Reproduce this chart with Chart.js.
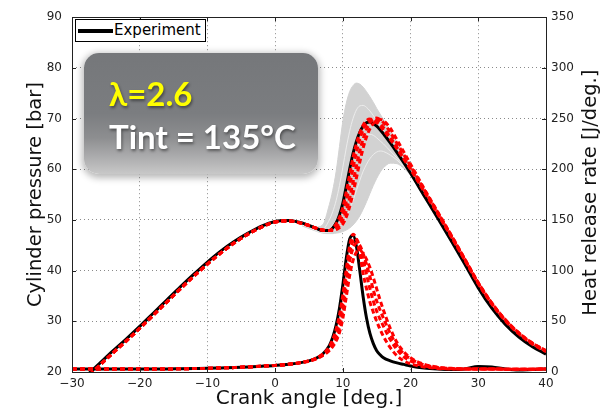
<!DOCTYPE html>
<html>
<head>
<meta charset="utf-8">
<script src="https://cdn.jsdelivr.net/npm/chart.js@4.4.1/dist/chart.umd.min.js"></script>
<style>
  body { margin: 0; background: #fff; }
  #wrap { position: relative; width: 604px; height: 412px; }
  #legendBox {
    position: absolute; left: 75px; top: 19px; width: 129px; height: 21px;
    border: 1px solid #000; background: #fff;
    font-family: "DejaVu Sans", sans-serif; font-size: 15px; line-height: 21px;
  }
  #legendBox .swatch { position: absolute; left: 2px; top: 9px; width: 35px; height: 4px; background: #000; }
  #legendBox .lbl { position: absolute; left: 38px; top: 0; }
  #infoBox {
    position: absolute; left: 84px; top: 53px; width: 234px; height: 121px;
    border-radius: 15px;
    background: linear-gradient(to bottom, #75777a 0%, #7b7d80 50%, #8d8e90 70%, #b4b4b5 90%, #c8c8c8 100%);
    box-shadow: 0 2px 7px 2px rgba(0, 0, 0, 0.28);
    font-family: Lato, "Open Sans", sans-serif; font-weight: bold; font-size: 33px;
  }
  #infoBox div { position: absolute; left: 25px; white-space: nowrap; text-shadow: 1px 2px 3px rgba(0, 0, 0, 0.45); }
  #lam { top: 20px; color: #ffff00; }
  #tint { top: 63px; color: #fff; }
</style>
</head>
<body>
<div id="wrap">
  <canvas id="myChart" width="604" height="412"></canvas>
  <div id="legendBox"><span class="swatch"></span><span class="lbl">Experiment</span></div>
  <div id="infoBox"><div id="lam">λ=2.6</div><div id="tint">Tint = 135°C</div></div>
</div>
<script>
// crank angle grid [deg.]
var crank = [-30, -28, -26, -24, -22, -20, -18, -16, -14, -12, -10, -8, -6, -4, -2, 0, 2, 4,
  5, 6, 7, 8, 8.5, 9, 9.5, 10, 10.5, 11, 11.5, 12, 12.5, 13, 13.5, 14, 14.5, 15, 15.5, 16,
  17, 18, 19, 20, 22, 24, 26, 28, 30, 32, 34, 36, 38, 40];

var xTicks = [-30, -20, -10, 0, 10, 20, 30, 40];
var pTicks = [20, 30, 40, 50, 60, 70, 80, 90];
var hrrTicks = [0, 50, 100, 150, 200, 250, 300, 350];

// experiment, cylinder pressure [bar]
var expPressure = [16.7, 19.1, 21.6, 24.1, 26.5, 29.0, 31.6, 34.2, 36.8, 39.3, 41.7, 43.9, 45.8, 47.4, 48.8, 49.7, 49.9, 49.4,
  48.9, 48.4, 47.9, 47.9, 48.4, 49.4, 51.0, 53.3, 56.6, 60.0, 63.1, 65.5, 67.3, 68.5, 69.2, 69.3, 69.0, 68.5, 67.8, 67.0,
  65.2, 63.3, 61.3, 59.2, 54.8, 50.4, 45.9, 41.3, 36.6, 32.6, 29.4, 26.9, 25.0, 23.5];

// experiment, heat release rate [J/deg.]
var expHrr = [3, 3, 3, 3, 3, 3, 3, 3, 3.2, 3.4, 3.6, 4, 4.4, 5, 5.7, 6.5, 7.6, 9.5,
  11, 13.5, 17.5, 26, 34, 46, 63, 86, 112, 131, 135, 124, 100, 74, 53, 38, 28, 21, 17, 14,
  11, 9, 7.5, 6, 4, 3, 2.5, 3, 5.5, 5, 3, 2, 2.5, 3];

// simulations: common motored part (-30 .. 8 deg.)
var simPressureStart = [16.3, 18.7, 21.2, 23.7, 26.1, 28.6, 31.2, 33.8, 36.4, 38.9, 41.3, 43.5, 45.5, 47.2, 48.6, 49.6, 49.8, 49.3,
  48.9, 48.4, 48.0, 47.9];
var simPressA = [48.4, 49.2, 50.5, 52.5, 55.5, 58.9, 62.3, 65.0, 67.2, 68.7, 69.6, 69.9, 69.7, 69.2, 68.5, 67.7,
  65.9, 64.0, 62.0, 60.0, 55.6, 51.2, 46.7, 42.1, 37.4, 33.4, 30.1, 27.5, 25.5, 24.0];
var simPressB = [48.1, 48.6, 49.6, 51.2, 53.6, 56.8, 60.2, 63.3, 65.9, 67.8, 69.0, 69.7, 69.9, 69.6, 69.0, 68.2,
  66.3, 64.3, 62.2, 60.1, 55.7, 51.3, 46.8, 42.2, 37.5, 33.5, 30.2, 27.6, 25.6, 24.1];
var simPressC = [48.0, 48.3, 48.9, 50.0, 51.8, 54.3, 57.4, 60.6, 63.6, 66.0, 67.9, 69.2, 69.9, 70.1, 69.8, 69.2,
  67.3, 65.1, 62.9, 60.6, 56.0, 51.5, 47.0, 42.3, 37.6, 33.6, 30.3, 27.7, 25.7, 24.2];
var simPressD = [47.9, 48.1, 48.5, 49.2, 50.6, 52.6, 55.3, 58.3, 61.4, 64.2, 66.4, 68.0, 69.0, 69.6, 69.8, 69.6,
  68.1, 65.8, 63.4, 61.0, 56.2, 51.6, 47.0, 42.3, 37.6, 33.6, 30.3, 27.7, 25.7, 24.2];

// simulations: heat release, common part (-30 .. 4 deg.)
var simHrrStart = [3, 3, 3, 3, 3, 3, 3, 3, 3.2, 3.4, 3.6, 4, 4.4, 5, 5.7, 6.5, 7.6, 9.5];
var simHrrA = [11, 13.5, 17.5, 25, 32, 42, 56, 76, 101, 124, 136, 131, 116, 97, 82, 69, 59, 50, 42, 35,
  24, 16, 11, 8, 5, 3.5, 3, 3, 3, 3, 2.8, 2.8, 2.8, 3];
var simHrrB = [11, 13.2, 17, 23.5, 29, 37, 50, 69, 95, 117, 129, 131, 123, 110, 96, 82, 70, 60, 52, 45,
  32, 22, 15, 11, 6, 4, 3.2, 3, 3, 3, 2.8, 2.8, 2.8, 3];
var simHrrC = [10.8, 13, 16.5, 22, 26.5, 33, 44, 61, 86, 109, 122, 127, 125, 117, 106, 94, 81, 70, 61, 53,
  38, 26, 18, 13, 7, 4.5, 3.5, 3, 3, 3, 2.8, 2.8, 2.8, 3];
var simHrrD = [10.6, 12.7, 16, 21, 25, 30.5, 39, 53, 74, 95, 110, 118, 120, 117, 111, 103, 93, 82, 71, 61,
  43, 29, 20, 14, 7.5, 4.8, 3.6, 3.1, 3, 3, 2.8, 2.8, 2.8, 3];

// measured cycles (grey band): envelope and a few single cycles
var cycleCrank = [4, 5, 6, 7, 8, 8.5, 9, 9.5, 10, 10.5, 11, 11.5, 12, 12.5, 13, 13.5, 14, 14.5, 15, 15.5, 16,
  17, 18, 19, 20, 22, 24, 26];
var cycleMax = [49.3, 48.9, 48.6, 49.0, 53.0, 55.8, 59.5, 64.5, 69.5, 73.0, 75.3, 76.5, 77.0, 76.8, 76.2, 75.3, 74.3, 73.2, 72.0, 70.9, 69.8,
  67.6, 65.3, 63.0, 60.8, 56.0, 51.2, 46.5];
var cycleMin = [48.8, 48.3, 47.8, 47.4, 47.3, 47.3, 47.4, 47.5, 47.7, 48.0, 48.4, 49.0, 49.8, 50.8, 52.1, 53.6, 55.2, 56.8, 58.2, 59.4, 60.3,
  61.2, 61.1, 60.2, 58.8, 54.4, 50.0, 45.5];
var cycle1 = [49.2, 48.7, 48.2, 48.2, 50.0, 51.6, 53.8, 56.8, 60.4, 64.2, 67.5, 70.0, 71.7, 72.5, 72.6, 72.2, 71.5, 70.6, 69.6, 68.6, 67.6,
  65.5, 63.5, 61.5, 59.6, 55.2, 50.7, 46.1];
var cycle2 = [49.1, 48.6, 48.0, 47.7, 48.3, 49.0, 50.0, 51.5, 53.5, 56.0, 58.8, 61.5, 63.7, 65.3, 66.3, 66.8, 66.9, 66.7, 66.2, 65.6, 65.0,
  63.6, 62.2, 60.7, 59.2, 54.9, 50.5, 46.0];
var cycle3 = [49.0, 48.5, 47.9, 47.5, 47.6, 47.8, 48.1, 48.6, 49.4, 50.5, 52.0, 53.8, 55.8, 57.8, 59.6, 61.0, 62.1, 62.9, 63.4, 63.6, 63.5,
  62.8, 61.8, 60.5, 59.1, 54.7, 50.3, 45.8];

var rightTitle = 'Heat release rate [J/deg.]';

function pts(xs, ys) {
  return ys.map(function (y, i) {
    return { x: xs[i], y: y };
  });
}

function simSet(values, axis) {
  return {
    data: pts(crank, values),
    yAxisID: axis,
    borderColor: '#ff0000',
    borderWidth: 3,
    borderDash: [5, 3],
    fill: false
  };
}

function greyLine(values, color) {
  return {
    data: pts(cycleCrank, values),
    yAxisID: 'y',
    borderColor: color,
    borderWidth: 1,
    fill: false
  };
}

// first dataset is drawn on top
var datasets = [
  simSet(simPressureStart.concat(simPressA), 'y'),
  simSet(simPressureStart.concat(simPressB), 'y'),
  simSet(simPressureStart.concat(simPressC), 'y'),
  simSet(simPressureStart.concat(simPressD), 'y'),
  simSet(simHrrStart.concat(simHrrA), 'y2'),
  simSet(simHrrStart.concat(simHrrB), 'y2'),
  simSet(simHrrStart.concat(simHrrC), 'y2'),
  simSet(simHrrStart.concat(simHrrD), 'y2'),
  { label: 'Experiment', data: pts(crank, expPressure), yAxisID: 'y', borderColor: '#000', borderWidth: 3, fill: false },
  { data: pts(crank, expHrr), yAxisID: 'y2', borderColor: '#000', borderWidth: 3, fill: false },
  greyLine(cycle1, 'rgba(238,238,238,0.9)'),
  greyLine(cycle2, 'rgba(238,238,238,0.9)'),
  greyLine(cycle3, 'rgba(238,238,238,0.9)'),
  { data: pts(cycleCrank, cycleMax), yAxisID: 'y', borderColor: '#d2d2d2', borderWidth: 1, fill: '+1', backgroundColor: '#d2d2d2' },
  { data: pts(cycleCrank, cycleMin), yAxisID: 'y', borderColor: '#d2d2d2', borderWidth: 1, fill: false }
];

var frame = {
  id: 'frame',
  afterDatasetsDraw: function (chart) {
    var ctx = chart.ctx;
    var a = chart.chartArea;
    ctx.save();
    ctx.strokeStyle = '#222';
    ctx.lineWidth = 1;
    ctx.strokeRect(Math.round(a.left) + 0.5, Math.round(a.top) + 0.5, Math.round(a.right - a.left), Math.round(a.bottom - a.top));
    // inward tick marks
    ctx.beginPath();
    var sx = chart.scales.x;
    sx.ticks.forEach(function (t, i) {
      var px = Math.round(sx.getPixelForTick(i)) + 0.5;
      ctx.moveTo(px, a.bottom); ctx.lineTo(px, a.bottom - 4);
      ctx.moveTo(px, a.top); ctx.lineTo(px, a.top + 4);
    });
    var sy = chart.scales.y;
    sy.ticks.forEach(function (t, i) {
      var py = Math.round(sy.getPixelForTick(i)) + 0.5;
      ctx.moveTo(a.left, py); ctx.lineTo(a.left + 4, py);
    });
    var sy2 = chart.scales.y2;
    sy2.ticks.forEach(function (t, i) {
      var py = Math.round(sy2.getPixelForTick(i)) + 0.5;
      ctx.moveTo(a.right, py); ctx.lineTo(a.right - 4, py);
    });
    ctx.stroke();

    // right axis title reads bottom to top, like the left one
    ctx.fillStyle = '#111';
    ctx.font = '19.5px "DejaVu Sans"';
    ctx.textAlign = 'center';
    ctx.textBaseline = 'middle';
    ctx.translate(591, (a.top + a.bottom) / 2 - 2);
    ctx.rotate(-Math.PI / 2);
    ctx.fillText(rightTitle, 0, 0);
    ctx.restore();
  }
};

function setTicks(values) {
  return function (scale) {
    scale.ticks = values.map(function (v) { return { value: v }; });
  };
}

function minusLabel(v) {
  return v < 0 ? '\u2212' + Math.abs(v) : '' + v;
}

var tickFont = { family: 'DejaVu Sans', size: 12 };
var titleFont = { family: 'DejaVu Sans', size: 19.5 };

var chart = new Chart(document.getElementById('myChart').getContext('2d'), {
  type: 'line',
  data: { datasets: datasets },
  plugins: [frame],
  options: {
    responsive: false,
    animation: false,
    events: [],
    layout: { padding: { top: 17, left: 0, right: 0, bottom: 0 } },
    elements: {
      point: { radius: 0 },
      line: { cubicInterpolationMode: 'monotone' }
    },
    plugins: {
      legend: { display: false },
      tooltip: { enabled: false }
    },
    scales: {
      x: {
        type: 'linear',
        min: -30,
        max: 40,
        afterBuildTicks: setTicks(xTicks),
        afterFit: function (s) { s.height = 40; },
        grid: { color: '#8a8a8a', lineWidth: 1, drawTicks: false },
        border: { display: false, dash: [1, 3] },
        ticks: { color: '#222', font: tickFont, padding: 5, maxRotation: 0, callback: minusLabel },
        title: { display: true, text: 'Crank angle [deg.]', color: '#111', font: { family: 'DejaVu Sans', size: 20 }, padding: { top: 0, bottom: 1 } }
      },
      y: {
        position: 'left',
        min: 20,
        max: 90,
        afterBuildTicks: setTicks(pTicks),
        afterFit: function (s) { s.width = 72; },
        grid: { color: '#8a8a8a', lineWidth: 1, drawTicks: false },
        border: { display: false, dash: [1, 3] },
        ticks: { color: '#222', font: tickFont, padding: 10 },
        title: { display: true, text: 'Cylinder pressure [bar]', color: '#111', font: titleFont, padding: { top: 24, bottom: 0 } }
      },
      y2: {
        position: 'right',
        min: 0,
        max: 350,
        afterBuildTicks: setTicks(hrrTicks),
        afterFit: function (s) { s.width = 58; },
        grid: { display: false, drawTicks: false },
        border: { display: false },
        ticks: { color: '#222', font: tickFont, padding: 5 }
      }
    }
  }
});
</script>
</body>
</html>
